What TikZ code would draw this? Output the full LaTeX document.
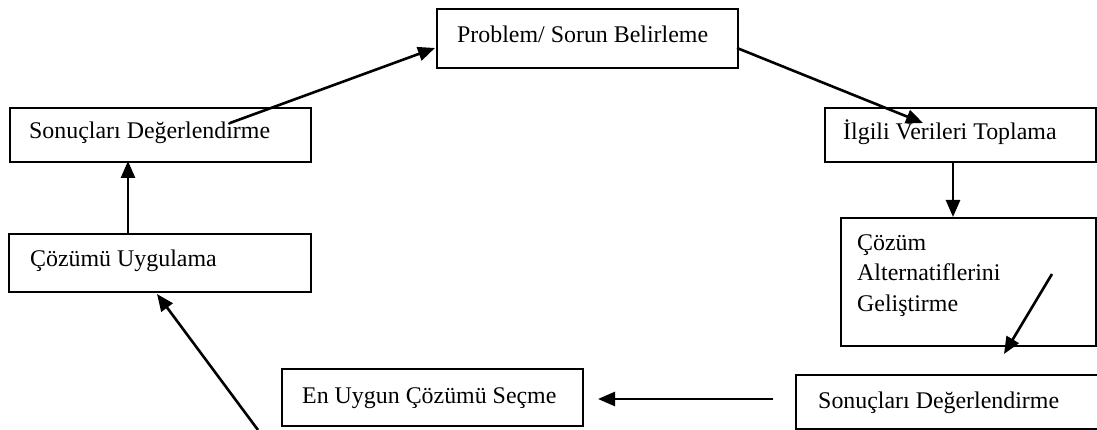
\documentclass[tikz,border=0pt]{standalone}
\usepackage{fontspec}
\setmainfont{Liberation Serif}
\usetikzlibrary{arrows.meta}
\begin{document}
\begin{tikzpicture}[x=1pt,y=-1pt,
  box/.style={draw=black, line width=1.8pt, inner sep=0pt},
  lbl/.style={anchor=base west, inner sep=0pt, font=\fontsize{23.9}{28}\selectfont},
  arr/.style={line width=2.6pt, -{Triangle[length=17pt,width=14pt]}}]
\clip (0,0) rectangle (1097,430);
\fill[white] (0,0) rectangle (1097,430);
% boxes
\node[box, minimum width=301pt, minimum height=59pt, anchor=north west] (b1) at (436,8) {};
\node[box, minimum width=301pt, minimum height=54pt, anchor=north west] (b2) at (9,107) {};
\node[box, minimum width=271pt, minimum height=54pt, anchor=north west] (b3) at (824,107) {};
\node[box, minimum width=255pt, minimum height=128pt, anchor=north west] (b4) at (840,217) {};
\node[box, minimum width=302pt, minimum height=58pt, anchor=north west] (b5) at (8,233) {};
\node[box, minimum width=301pt, minimum height=57pt, anchor=north west] (b6) at (281,368) {};
\node[box, minimum width=330pt, minimum height=54pt, anchor=north west] (b7) at (795,374) {};
% texts
\node[lbl] (t1) at (457,43) {Problem/ Sorun Belirleme};
\node[lbl] (t2) at (29,139) {Sonuçları Değerlendirme};
\node[lbl] (t3) at (843,140) {İlgili Verileri Toplama};
\node[lbl] (t4a) at (857,250.7) {Çözüm};
\node[lbl] (t4b) at (857,280.7) {Alternatiflerini};
\node[lbl] (t4c) at (857,311.7) {Geliştirme};
\node[lbl] (t5) at (30,267) {Çözümü Uygulama};
\node[lbl] (t6) at (302,403) {En Uygun Çözümü Seçme};
\node[lbl] (t7) at (818,408) {Sonuçları Değerlendirme};
% connector endpoints
\coordinate (a1s) at (230,123);
\coordinate (a1e) at (435,48);
\coordinate (a2s) at (737,48);
\coordinate (a2e) at (923,123);
\coordinate (a3s) at (953,161);
\coordinate (a3e) at (953,217);
\coordinate (a4s) at (1052,274);
\coordinate (a4e) at (1004,354);
\coordinate (a5s) at (773,399);
\coordinate (a5e) at (598,399);
\coordinate (a6s) at (258,430);
\coordinate (a6e) at (157,294);
\coordinate (a7s) at (128,233);
\coordinate (a7e) at (128,161);
% connectors
\draw[arr] (a1s) -- (a1e);
\draw[arr] (a2s) -- (a2e);
\draw[arr] (a3s) -- (a3e);
\draw[arr] (a4s) -- (a4e);
\draw[arr] (a5s) -- (a5e);
\draw[arr] (a6s) -- (a6e);
\draw[arr] (a7s) -- (a7e);
\end{tikzpicture}
\end{document}
